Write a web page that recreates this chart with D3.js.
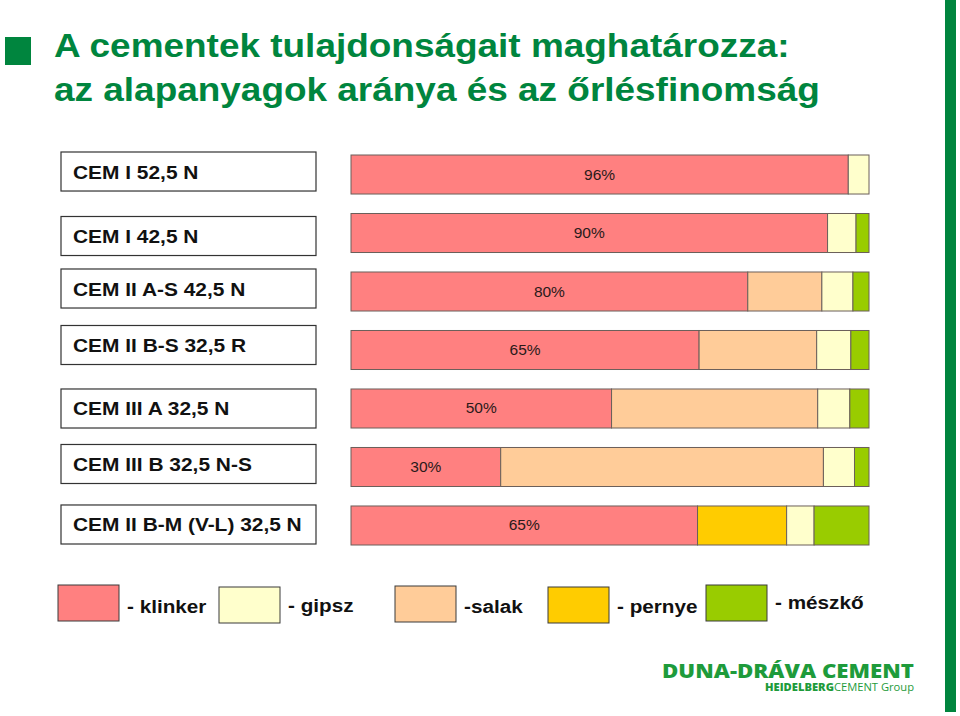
<!DOCTYPE html>
<html>
<head>
<meta charset="utf-8">
<script src="https://cdn.jsdelivr.net/npm/d3@7"></script>
<style>
    body { margin: 0; background: #fff; }
    svg { display: block; }
</style>
</head>
<body>
<div id="chart"></div>
<script>
// Data
const CEMENTS = [
    'CEM I 52,5 N',
    'CEM I 42,5 N',
    'CEM II A-S 42,5 N',
    'CEM II B-S 32,5 R',
    'CEM III A 32,5 N',
    'CEM III B 32,5 N-S',
    'CEM II B-M (V-L) 32,5 N'
];
// shares (percent of the bar)
const KLINKER = [96, 92, 76.6, 67.2, 50.3, 28.9, 66.9];
const SALAK = [0, 0, 14.3, 22.7, 39.8, 62.3, 0];
const PERNYE = [0, 0, 0, 0, 0, 0, 17.2];
const GIPSZ = [4, 5.5, 6, 6.6, 6.2, 6.0, 5.3];
const MESZKO = [0, 2.5, 3.1, 3.5, 3.7, 2.8, 10.6];
// printed labels on the klinker part
const KLINKER_LABELS = ['96%', '90%', '80%', '65%', '50%', '30%', '65%'];

const KEYS = ['klinker', 'salak', 'pernye', 'gipsz', 'meszko'];
const LEGEND_KEYS = ['klinker', 'gipsz', 'salak', 'pernye', 'meszko'];
const LEGEND_TEXT = ['- klinker', '- gipsz', '-salak', '- pernye', '- mészkő'];

// Styles / layout
const COLORS = {
    klinker: '#FF8080',
    salak: '#FFCC99',
    pernye: '#FFCC00',
    gipsz: '#FFFFCC',
    meszko: '#99CC00'
};
const GREEN = '#00853E';
const FONT = '"Liberation Sans", Arial, sans-serif';
const WIDTH = 960;
const HEIGHT = 716;
// legend box left edges and small vertical wobble as in the slide
const LEGEND_X = [58, 219, 395, 548, 706];
const LEGEND_DY = [0, 2, 1, 2, 0];
const LEGEND_TEXT_DY = [0, -1.5, 0, 0, -4.5];
// name boxes are not quite lined up with the bars on the slide
const BOX_DY = [-3, 3, -3, -5, 0, -3, -1];

const svg = d3.select('#chart')
    .append('svg').attr('width', WIDTH).attr('height', HEIGHT);

svg.append('rect')
    .attr('width', WIDTH).attr('height', HEIGHT).attr('fill', '#fff');

// Right hand green stripe
svg.append('rect')
    .attr('x', 945).attr('y', 0)
    .attr('width', 11).attr('height', 712)
    .attr('fill', GREEN);

// Title
svg.append('rect')
    .attr('x', 5).attr('y', 37)
    .attr('width', 26).attr('height', 28)
    .attr('fill', GREEN);

const titleLines = ['A cementek tulajdonságait maghatározza:', 'az alapanyagok aránya és az őrlésfinomság'];
svg.selectAll('.title')
    .data(titleLines)
    .join('text')
    .attr('class', 'title')
    .attr('transform', (d, i) => `translate(54,${57 + i * 44}) scale(1.12,1)`)
    .attr('font-family', FONT)
    .attr('font-weight', 'bold')
    .attr('font-size', 33)
    .attr('fill', GREEN)
    .text(d => d);

// Scales
const x = d3.scaleLinear()
    .domain([0, 100])
    .range([351, 869]);
const y = d3.scaleBand()
    .domain(CEMENTS)
    .range([155, 545])
    .paddingInner(0.333)
    .paddingOuter(0);

// Build stack
const rows = CEMENTS.map((c, i) => ({
    name: c,
    klinker: KLINKER[i],
    salak: SALAK[i],
    pernye: PERNYE[i],
    gipsz: GIPSZ[i],
    meszko: MESZKO[i]
}));
const series = d3.stack().keys(KEYS)(rows);

const layers = svg.append('g').attr('class', 'bars')
    .selectAll('g')
    .data(series)
    .join('g')
    .attr('fill', d => COLORS[d.key]);

layers.selectAll('rect')
    .data(d => d.filter(p => p[1] - p[0] > 0))
    .join('rect')
    .attr('x', d => x(d[0]))
    .attr('y', d => y(d.data.name))
    .attr('width', d => x(d[1]) - x(d[0]))
    .attr('height', y.bandwidth())
    .attr('stroke', '#6b5f5a')
    .attr('stroke-width', 1);

// Percent labels, centred in the klinker part
svg.append('g').selectAll('text')
    .data(rows)
    .join('text')
    .attr('x', d => x(d.klinker / 2))
    .attr('y', d => y(d.name) + y.bandwidth() / 2 + 5)
    .attr('text-anchor', 'middle')
    .attr('font-family', FONT)
    .attr('font-size', 15.5)
    .attr('fill', '#2a1a1a')
    .text((d, i) => KLINKER_LABELS[i]);

// Name boxes on the left
const names = svg.append('g').selectAll('g')
    .data(CEMENTS)
    .join('g')
    .attr('transform', (d, i) => `translate(61,${y(d) + BOX_DY[i]})`);

names.append('rect')
    .attr('width', 255)
    .attr('height', y.bandwidth())
    .attr('fill', '#fff')
    .attr('stroke', '#333')
    .attr('stroke-width', 1.2);

names.append('text')
    .attr('transform', `translate(12,${y.bandwidth() / 2 + 7}) scale(1.1,1)`)
    .attr('font-family', FONT)
    .attr('font-weight', 'bold')
    .attr('font-size', 19)
    .attr('fill', '#111')
    .text(d => d);

// Legend
const legend = svg.append('g').selectAll('g')
    .data(LEGEND_KEYS)
    .join('g')
    .attr('transform', (d, i) => `translate(${LEGEND_X[i]},${585 + LEGEND_DY[i]})`);

legend.append('rect')
    .attr('width', 61)
    .attr('height', 36)
    .attr('fill', d => COLORS[d])
    .attr('stroke', '#3a3a3a')
    .attr('stroke-width', 1);

legend.append('text')
    .attr('transform', (d, i) => `translate(69,${28 - LEGEND_DY[i] + LEGEND_TEXT_DY[i]}) scale(1.09,1)`)
    .attr('font-family', FONT)
    .attr('font-weight', 'bold')
    .attr('font-size', 19)
    .attr('fill', '#111')
    .text((d, i) => LEGEND_TEXT[i]);

// Logo
const LOGO_GREEN = '#1E9B3B';
svg.append('text')
    .attr('x', 662).attr('y', 678)
    .attr('font-family', '"Open Sans", sans-serif')
    .attr('font-weight', 800)
    .attr('font-size', 19)
    .attr('textLength', 252)
    .attr('lengthAdjust', 'spacingAndGlyphs')
    .attr('fill', LOGO_GREEN)
    .text('DUNA-DRÁVA CEMENT');

const sub = svg.append('text')
    .attr('x', 765).attr('y', 691)
    .attr('font-family', '"Open Sans", sans-serif')
    .attr('font-size', 10)
    .attr('textLength', 149)
    .attr('lengthAdjust', 'spacingAndGlyphs')
    .attr('fill', LOGO_GREEN);
sub.append('tspan').attr('font-weight', 800).text('HEIDELBERG');
sub.append('tspan').attr('font-weight', 400).text('CEMENT Group');
</script>
</body>
</html>
